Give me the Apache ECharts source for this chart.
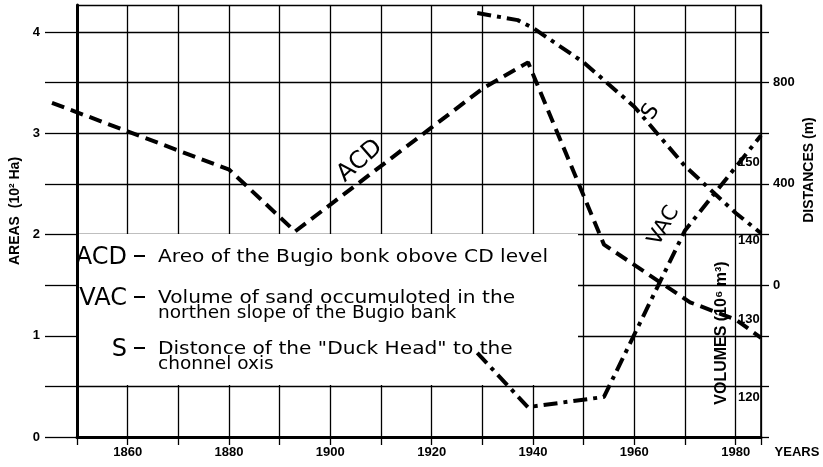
<!DOCTYPE html>
<html>
<head>
<meta charset="utf-8">
<script src="https://cdn.jsdelivr.net/npm/echarts@6/dist/echarts.min.js"></script>
<style>html,body{margin:0;padding:0;background:#fff}#c{width:823px;height:467px}</style>
</head>
<body>
<div id="c"></div>
<script>
// ---- data ----
const acdYears = [1845, 1880, 1893, 1930, 1939, 1954, 1971, 1980, 1985];
const acdArea  = [3.30, 2.64, 2.03, 3.44, 3.70, 1.90, 1.33, 1.16, 0.98];      // 10^2 Ha
const sYears   = [1929, 1937, 1940, 1950, 1960, 1970, 1980, 1985];
const sDist    = [1075, 1047, 1016, 880, 705, 470, 285, 205];                 // m
const vacYears = [1929, 1939, 1954, 1970, 1985];
const vacVol   = [125.7, 118.8, 120.1, 141.3, 153.4];                         // 10^6 m3

const yearTicks = [1860, 1880, 1900, 1920, 1940, 1960, 1980];
const areaTicks = [0, 1, 2, 3, 4];
const distTicks = [0, 400, 800];
const volTicks  = [120, 130, 140, 150];

const legendRows = [
  {key: 'ACD', lines: ['Areo of the Bugio bonk obove CD level']},
  {key: 'VAC', lines: ['Volume of sand occumuloted in the', 'northen slope of the Bugio bank']},
  {key: 'S',   lines: ['Distonce of the "Duck Head" to the', 'chonnel oxis']}
];

const zip = (a, b) => a.map((v, i) => [v, b[i]]);
const tickFont = '"Liberation Sans", Arial, sans-serif';
const txtFont = '"DejaVu Sans", sans-serif';
const AREA_MAX = 432 / 101.25;

const chart = echarts.init(document.getElementById('c'), null, {renderer: 'canvas'});

const legendGraphic = [];
legendGraphic.push({type: 'rect', z: 1, shape: {x: 79, y: 234, width: 499, height: 151}, style: {fill: '#fff'}});
const rowY = [257, 298, 349];
legendRows.forEach((r, i) => {
  legendGraphic.push({type: 'text', z: 3, x: 127, y: rowY[i] + 1,
    style: {text: r.key, font: '24px ' + txtFont, fill: '#000', align: 'right', verticalAlign: 'middle'}});
  legendGraphic.push({type: 'rect', z: 3, shape: {x: 134, y: rowY[i] - 2, width: 11, height: 2}, style: {fill: '#000'}});
  r.lines.forEach((t, j) => {
    legendGraphic.push({type: 'text', z: 3, x: 158, y: rowY[i] + j * 16,
      scaleX: j === 0 ? 1.12 : 1.09,
      style: {text: t, font: (j === 0 ? '18px ' : '17px ') + txtFont, fill: '#000', align: 'left', verticalAlign: 'middle'}});
  });
});

const labelGraphic = [
  {type: 'text', z: 3, x: 15, y: 211, rotation: Math.PI / 2,
    style: {text: 'AREAS  (10² Ha)', font: 'bold 14px ' + tickFont, fill: '#000', align: 'center', verticalAlign: 'middle'}},
  {type: 'text', z: 3, x: 809, y: 170, rotation: Math.PI / 2,
    style: {text: 'DISTANCES (m)', font: 'bold 14px ' + tickFont, fill: '#000', align: 'center', verticalAlign: 'middle'}},
  {type: 'text', z: 3, x: 722, y: 333, rotation: Math.PI / 2,
    style: {text: 'VOLUMES (10⁶ m³)', font: 'bold 16px ' + tickFont, fill: '#000', align: 'center', verticalAlign: 'middle'}},
  {type: 'text', z: 3, x: 797, y: 452,
    style: {text: 'YEARS', font: 'bold 13px ' + tickFont, fill: '#000', align: 'center', verticalAlign: 'middle'}},
  {type: 'text', z: 3, x: 360, y: 161, rotation: 0.72,
    style: {text: 'ACD', font: '24px ' + txtFont, fill: '#000', align: 'center', verticalAlign: 'middle'}},
  {type: 'text', z: 3, x: 664, y: 226, rotation: 1.05,
    style: {text: 'VAC', font: '21px ' + txtFont, fill: '#000', align: 'center', verticalAlign: 'middle'}},
  {type: 'text', z: 3, x: 651, y: 112, rotation: 1.0,
    style: {text: 'S', font: '22px ' + txtFont, fill: '#000', align: 'center', verticalAlign: 'middle'}}
];

const gridLine = {show: true, lineStyle: {color: '#000', width: 1.3}};

chart.setOption({
  animation: false,
  backgroundColor: '#fff',
  grid: [
    {left: 77, right: 62, top: 5, bottom: 30},
    // same plot rectangle extended to 1845 so the ACD curve can start left of the axis
    {left: 52, right: 62, top: 5, bottom: 30}
  ],
  xAxis: [
    {
      type: 'value', gridIndex: 0, min: 1850, max: 1985, interval: 10,
      axisLine: {show: true, lineStyle: {color: '#000', width: 3}},
      axisTick: {show: true, length: 8, lineStyle: {color: '#000', width: 1.3}},
      axisLabel: {margin: 9, color: '#000', fontFamily: tickFont, fontWeight: 'bold', fontSize: 13,
        formatter: v => yearTicks.includes(v) ? String(v) : ''},
      splitLine: gridLine
    },
    {type: 'value', gridIndex: 1, min: 1845, max: 1985, show: false, splitLine: {show: false}}
  ],
  yAxis: [
    {
      type: 'value', gridIndex: 0, position: 'left', min: 0, max: AREA_MAX, interval: 0.5,
      axisLine: {show: true, lineStyle: {color: '#000', width: 3}},
      axisTick: {show: true, length: 32, lineStyle: {color: '#000', width: 1.3}},
      axisLabel: {margin: 37, color: '#000', fontFamily: tickFont, fontWeight: 'bold', fontSize: 13,
        showMaxLabel: false, formatter: v => areaTicks.includes(v) ? String(v) : ''},
      splitLine: gridLine
    },
    {
      type: 'value', gridIndex: 0, position: 'right', min: -600, max: (AREA_MAX - 1.5) * 400, interval: 200,
      axisLine: {show: true, onZero: false, lineStyle: {color: '#000', width: 1.6}},
      axisTick: {show: true, length: 8, lineStyle: {color: '#000', width: 1.3}},
      axisLabel: {margin: 12, color: '#000', fontFamily: tickFont, fontWeight: 'bold', fontSize: 13,
        showMaxLabel: false, formatter: v => distTicks.includes(v) ? String(v) : ''},
      splitLine: {show: false}
    },
    {
      type: 'value', gridIndex: 0, position: 'right', offset: -25, min: 115, max: 170, interval: 5,
      axisLine: {show: false}, axisTick: {show: false},
      axisLabel: {margin: 2, color: '#000', fontFamily: tickFont, fontWeight: 'bold', fontSize: 13,
        showMaxLabel: false, formatter: v => volTicks.includes(v) ? String(v) : ''},
      splitLine: {show: false}
    },
    {type: 'value', gridIndex: 1, min: 0, max: AREA_MAX, show: false, splitLine: {show: false}}
  ],
  series: [
    {name: 'ACD', type: 'line', xAxisIndex: 1, yAxisIndex: 3, data: zip(acdYears, acdArea), showSymbol: false, symbol: 'none',
      clip: false, z: 5, lineStyle: {color: '#000', width: 4, type: [13, 7], cap: 'butt'}},
    {name: 'S', type: 'line', xAxisIndex: 0, yAxisIndex: 1, data: zip(sYears, sDist), showSymbol: false, symbol: 'none',
      clip: false, z: 5, lineStyle: {color: '#000', width: 4, type: [14, 6, 4, 6], cap: 'butt'}},
    {name: 'VAC', type: 'line', xAxisIndex: 0, yAxisIndex: 2, data: zip(vacYears, vacVol), showSymbol: false, symbol: 'none',
      clip: false, z: 5, lineStyle: {color: '#000', width: 4, type: [14, 6, 4, 6], cap: 'butt'}}
  ],
  graphic: legendGraphic.concat(labelGraphic)
});
</script>
</body>
</html>
